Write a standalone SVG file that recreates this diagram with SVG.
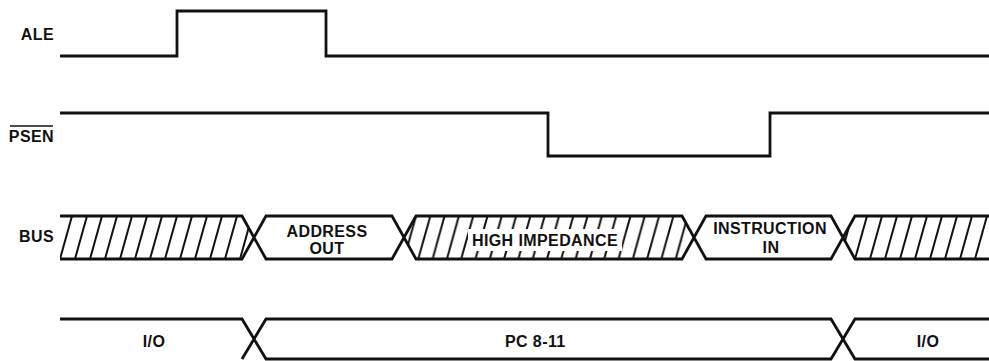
<svg xmlns="http://www.w3.org/2000/svg" width="989" height="361" viewBox="0 0 989 361">
<style>
.w{fill:none;stroke:#111;stroke-width:2.8;stroke-linejoin:miter;stroke-linecap:butt}
.hl{stroke:#111;stroke-width:2}
.t{font-family:"Liberation Sans",Arial,Helvetica,sans-serif;font-weight:bold;font-size:16px;fill:#111;letter-spacing:0.4px}
.m{text-anchor:middle}
.e{text-anchor:end}
</style>
<defs>
<pattern id="h15" patternUnits="userSpaceOnUse" x="60" y="216" width="15" height="43">
<line class="hl" x1="0" y1="43" x2="12" y2="0"/>
<line class="hl" x1="15" y1="43" x2="27" y2="0"/>
<line class="hl" x1="-15" y1="43" x2="-3" y2="0"/>
</pattern>
<pattern id="h14" patternUnits="userSpaceOnUse" x="404" y="216" width="14.3" height="43">
<line class="hl" x1="0" y1="43" x2="12" y2="0"/>
<line class="hl" x1="14.3" y1="43" x2="26.3" y2="0"/>
<line class="hl" x1="-14.3" y1="43" x2="-2.3" y2="0"/>
</pattern>
</defs>
<rect width="989" height="361" fill="#fff"/>

<g id="ALE">
<text class="t e" x="54" y="40">ALE</text>
<polyline class="w" points="60,56 177,56 177,11 326,11 326,56 989,56"/>
</g>

<g id="PSEN">
<text class="t e" x="54" y="142">PSEN</text>
<line x1="10" y1="126" x2="53" y2="126" stroke="#111" stroke-width="1.6"/>
<polyline class="w" points="60,113 548,113 548,156 770,156 770,113 989,113"/>
</g>

<g id="BUS">
<text class="t e" x="54" y="242">BUS</text>
<polygon points="60,216 242,216 254,237.5 242,259 60,259" fill="url(#h15)"/>
<polygon points="416,216 682,216 694,237.5 682,259 416,259 404,237.5" fill="url(#h14)"/>
<rect x="468" y="229" width="154" height="22" fill="#fff"/>
<polygon points="855,216 989,216 989,259 855,259 843,237.5" fill="url(#h15)"/>
<path class="w" d="M60,216H242L266,259H392L416,216H682L706,259H831L855,216H989 M60,259H242L266,216H392L416,259H682L706,216H831L855,259H989"/>
<text class="t m" x="327" y="237">ADDRESS</text>
<text class="t m" x="327" y="254">OUT</text>
<text class="t m" x="545" y="246">HIGH IMPEDANCE</text>
<text class="t m" x="770" y="234">INSTRUCTION</text>
<text class="t m" x="771" y="253">IN</text>
</g>

<g id="PORT">
<path class="w" d="M60,319H242L266,359H831L855,319H989 M242,359L266,319H831L855,359H989"/>
<text class="t m" x="154" y="347">I/O</text>
<text class="t" x="505" y="347">PC 8-11</text>
<text class="t m" x="928" y="347">I/O</text>
</g>
</svg>
